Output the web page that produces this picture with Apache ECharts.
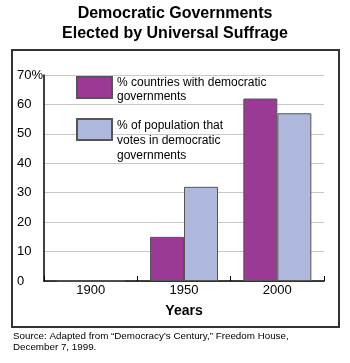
<!DOCTYPE html>
<html>
<head>
<meta charset="utf-8">
<script src="https://cdn.jsdelivr.net/npm/echarts@6/dist/echarts.min.js"></script>
<style>
  html, body { margin: 0; padding: 0; background: #fff; }
  #chart { width: 350px; height: 363px; }
</style>
</head>
<body>
<div id="chart"></div>
<script>
// data
var years = ["1900", "1950", "2000"];
var countriesPct = [0, 15, 62];
var populationPct = [0, 32, 57];
var seriesNames = ["% countries with democratic\ngovernments", "% of population that\nvotes in democratic\ngovernments"];

var chart = echarts.init(document.getElementById("chart"));

var font = "Liberation Sans, Arial, sans-serif";

// legend text sits centred on the swatch, so a spacer line pushes it down
function legendStyle(lh) {
  return {
    fontFamily: font,
    fontSize: 12,
    lineHeight: lh,
    color: "#000",
    rich: {
      s: { fontSize: 1, lineHeight: 5 },
      t: { fontSize: 1, lineHeight: 22 }
    }
  };
}

var option = {
  animation: false,
  title: [
    {
      text: "Democratic Governments\nElected by Universal Suffrage",
      left: "center",
      top: 4,
      padding: 0,
      textStyle: {
        fontFamily: font,
        fontSize: 16,
        fontWeight: "bold",
        lineHeight: 19.5,
        color: "#000"
      }
    },
    {
      text: "Source: Adapted from \u201cDemocracy\u2019s Century,\u201d Freedom House,\nDecember 7, 1999.",
      left: 13,
      top: 331,
      padding: 0,
      textStyle: {
        fontFamily: font,
        fontSize: 9.8,
        fontWeight: "normal",
        lineHeight: 11,
        color: "#000"
      }
    }
  ],
  legend: [
    {
      data: [seriesNames[0]],
      orient: "vertical",
      left: 76,
      top: 71,
      padding: 0,
      itemWidth: 35,
      itemHeight: 21,
      icon: "rect",
      selectedMode: false,
      formatter: function (name) { return "{s| }\n" + name; },
      textStyle: legendStyle(14)
    },
    {
      data: [seriesNames[1]],
      orient: "vertical",
      left: 76,
      top: 96,
      padding: 0,
      itemWidth: 35,
      itemHeight: 21,
      icon: "rect",
      selectedMode: false,
      formatter: function (name) { return "{t| }\n" + name; },
      textStyle: legendStyle(15)
    }
  ],
  grid: {
    left: 44,
    right: 26,
    top: 75,
    bottom: 82
  },
  xAxis: {
    type: "category",
    data: years,
    name: "Years",
    nameLocation: "middle",
    nameGap: 23,
    nameTextStyle: { fontFamily: font, fontSize: 14, fontWeight: "bold", color: "#000" },
    axisLine: { lineStyle: { color: "#000", width: 1.5 } },
    axisTick: { show: true, inside: true, length: 5, lineStyle: { color: "#000" } },
    axisLabel: { fontFamily: font, fontSize: 13, color: "#000", margin: 3 },
    splitLine: { show: false }
  },
  yAxis: {
    type: "value",
    min: 0,
    max: 70,
    interval: 10,
    axisLine: { show: true, lineStyle: { color: "#000", width: 1.5 } },
    axisTick: { show: false },
    axisLabel: {
      fontFamily: font,
      fontSize: 13,
      color: "#000",
      align: "left",
      margin: 27,
      formatter: function (v) { return v === 70 ? v + "%" : v; }
    },
    splitLine: { lineStyle: { color: "#c8c8c8", width: 1 } }
  },
  series: [
    {
      name: seriesNames[0],
      type: "bar",
      data: countriesPct,
      barWidth: 34,
      barGap: "0%",
      itemStyle: { color: "#9b3a94", borderColor: "#555", borderWidth: 1 }
    },
    {
      name: seriesNames[1],
      type: "bar",
      data: populationPct,
      barWidth: 34,
      barGap: "0%",
      itemStyle: { color: "#aeb8dc", borderColor: "#555", borderWidth: 1 }
    }
  ],
  graphic: [
    {
      type: "rect",
      shape: { x: 12, y: 50, width: 327, height: 277 },
      style: { fill: "none", stroke: "#333", lineWidth: 2 },
      silent: true
    }
  ]
};

chart.setOption(option);
</script>
</body>
</html>
